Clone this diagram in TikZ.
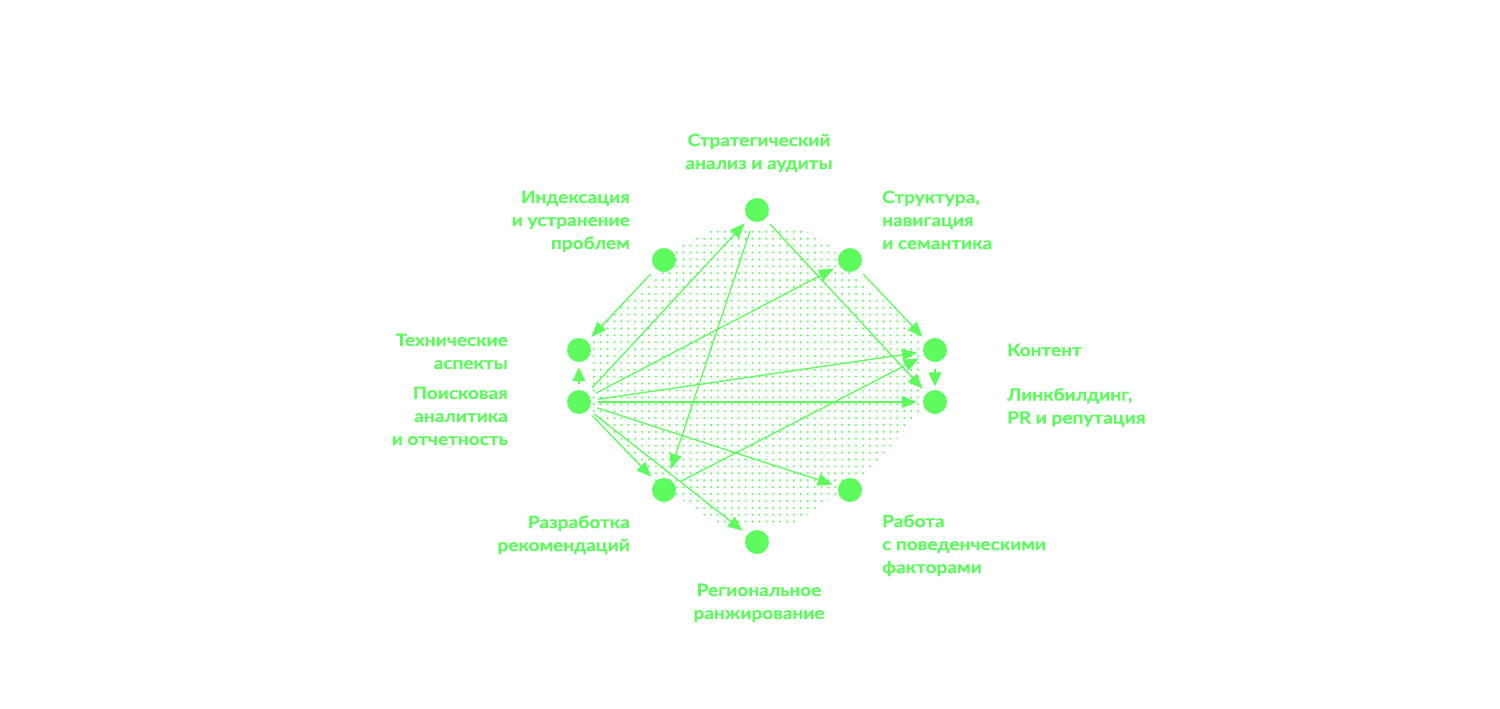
\documentclass[tikz,border=0pt]{standalone}
\usepackage{fontspec}
\setmainfont{Lato}[BoldFeatures={FakeStretch=1.12,FakeBold=0.6}]
\usetikzlibrary{arrows.meta}
\definecolor{gr}{RGB}{94,251,94}
\begin{document}
\begin{tikzpicture}[x=1pt,y=-1pt,
  dotn/.style={circle,fill=gr,draw=none,minimum size=24pt,inner sep=0pt},
  lbl/.style={text=gr,font=\bfseries\fontsize{17}{23}\selectfont,inner sep=0pt},
  ar/.style={draw=gr,line width=1.3pt,-{Triangle[length=15pt,width=12pt]},shorten <=7pt,shorten >=6pt},
  sar/.style={draw=gr,line width=1.3pt,-{Triangle[length=14pt,width=13pt]},shorten <=6pt,shorten >=5pt}]
\useasboundingbox (0,0) rectangle (1500,709);
\fill[white] (0,0) rectangle (1500,709);
% dotted field
\begin{scope}
\clip (716,228) -- (800,228) -- (828,243) -- (868,288) -- (912,323) -- (923,340) -- (923,410) -- (866,474) -- (806,516) -- (790,525) -- (718,525) -- (704,516) -- (646,474) -- (589,410) -- (589,340) -- (600,323) -- (644,288) -- (684,243) -- cycle;
\foreach \i in {0,...,47}{
  \foreach \j in {0,...,42}{
    \fill[gr] ({593.8+\i*6.9},{231.8+\j*6.9}) circle (1.15);
  }
}
\end{scope}
% nodes
\node[dotn] (strat)   at (757,210) {};
\node[dotn] (index)   at (664,260) {};
\node[dotn] (struct)  at (850,260) {};
\node[dotn] (tech)    at (579,350) {};
\node[dotn] (search)  at (579,402) {};
\node[dotn] (content) at (935,350) {};
\node[dotn] (link)    at (935,402) {};
\node[dotn] (razrab)  at (664,490) {};
\node[dotn] (rabota)  at (850,490) {};
\node[dotn] (region)  at (757,542) {};
% labels
\node[lbl,anchor=north,align=center] (lstrat) at (759,133.5) {Стратегический\\анализ и аудиты};
\node[lbl,anchor=north east,align=right] (lindex) at (630,190.5) {Индексация\\и устранение\\проблем};
\node[lbl,anchor=north west,align=left] (lstruct) at (882,190.5) {Структура,\\навигация\\и семантика};
\node[lbl,anchor=north east,align=right] (ltech) at (508,333.5) {Технические\\аспекты};
\node[lbl,anchor=north east,align=right] (lsearch) at (508,386.5) {Поисковая\\аналитика\\и отчетность};
\node[lbl,anchor=north west,align=left] (lcontent) at (1007,343.5) {Контент};
\node[lbl,anchor=north west,align=left] (llink) at (1007,388) {Линкбилдинг,\\PR и репутация};
\node[lbl,anchor=north east,align=right] (lrazrab) at (630,515.5) {Разработка\\рекомендаций};
\node[lbl,anchor=north west,align=left] (lrabota) at (882,514.5) {Работа\\с поведенческими\\факторами};
\node[lbl,anchor=north,align=center] (lregion) at (759,583.5) {Региональное\\ранжирование};
% connectors
\draw[ar] (index) -- (tech);
\draw[sar] (search) -- (tech);
\draw[ar] (search) -- (strat);
\draw[ar,shorten <=10pt,shorten >=10pt] (strat) -- (razrab);
\draw[ar] (strat) -- (link);
\draw[ar] (search) -- (struct);
\draw[ar] (struct) -- (content);
\draw[ar] (search) -- (content);
\draw[ar] (razrab) -- (content);
\draw[ar] (search) -- (link);
\draw[ar] (search) -- (rabota);
\draw[ar] (search) -- (razrab);
\draw[ar] (search) -- (region);
\draw[sar,shorten <=7pt,shorten >=3.5pt] (content) -- (link);
\end{tikzpicture}
\end{document}
